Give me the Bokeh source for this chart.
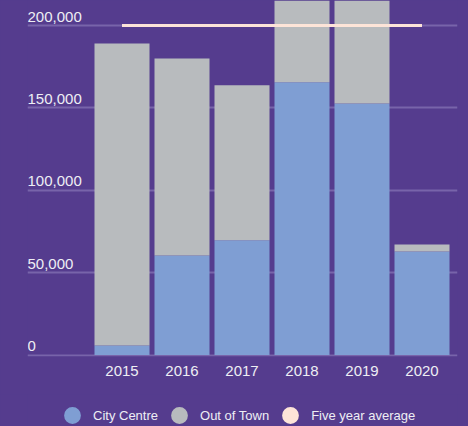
from bokeh.plotting import figure
from bokeh.layouts import column
from bokeh.models import (ColumnDataSource, Range1d, FixedTicker, Grid, Legend, LegendItem)
from bokeh.core.properties import value
from bokeh.embed import file_html
from bokeh.resources import INLINE

# ---- data ----
years = [2015, 2016, 2017, 2018, 2019, 2020]
city_centre = [5800, 60400, 69700, 165600, 152700, 62800]
out_of_town = [183200, 119600, 94100, 69500, 79400, 4200]
five_year_average = 200000
y_ticks = [0, 50000, 100000, 150000, 200000]
y_tick_labels = ["0", "50,000", "100,000", "150,000", "200,000"]
series_names = ["City Centre", "Out of Town", "Five year average"]

# ---- style ----
BG = "#553c8e"
BLUE = "#7f9ed3"
GREY = "#b8bbbe"
PEACH = "#fde4d8"
TEXT = "#eeeef4"
GRID = "#7864aa"
FONT = "Liberation Sans"

W = 468
MAIN_H = 394
LEG_H = 32
frame_left = 27
frame_w = 430
frame_h = 356
zero_px = 354.5
px_per_year = 60.0
px_per_unit = 329.5 / 200000.0

x_start = years[0] - (121.5 - frame_left) / px_per_year
x_end = x_start + frame_w / px_per_year
y_end = zero_px / px_per_unit
y_start = -(frame_h - zero_px) / px_per_unit

p = figure(width=W, height=MAIN_H, output_backend="svg", toolbar_location=None,
           x_range=Range1d(x_start, x_end), y_range=Range1d(y_start, y_end),
           y_axis_location=None, min_border_left=frame_left,
           min_border_right=W - frame_left - frame_w,
           min_border_top=0, min_border_bottom=MAIN_H - frame_h)
p.background_fill_color = BG
p.border_fill_color = BG
p.outline_line_color = None
p.styles = {"background-color": BG}
p.xgrid.visible = False
p.ygrid.visible = False

grid = Grid(dimension=1, ticker=FixedTicker(ticks=y_ticks),
            grid_line_color=GRID, grid_line_width=2)
p.add_layout(grid)

src = ColumnDataSource(dict(year=years, city=city_centre, out=out_of_town))
p.vbar_stack(["city", "out"], x="year", width=55 / px_per_year, source=src,
             color=[BLUE, GREY], line_color=None)

p.line(x=[years[0], years[-1]], y=[five_year_average, five_year_average],
       line_color=PEACH, line_width=3)

# y tick labels sitting above the grid lines
lab_src = ColumnDataSource(dict(x=[x_start] * len(y_ticks), y=y_ticks, t=y_tick_labels))
p.text(x="x", y="y", text="t", source=lab_src, text_font=value(FONT),
       text_font_size="15px", text_color=TEXT, text_align="left",
       text_baseline="alphabetic", y_offset=-9)

# x axis
ax = p.xaxis[0]
ax.ticker = FixedTicker(ticks=years)
ax.major_label_overrides = {y: str(y) for y in years}
ax.axis_line_color = None
ax.major_tick_line_color = None
ax.minor_tick_line_color = None
ax.major_label_text_font = FONT
ax.major_label_text_font_size = "15px"
ax.major_label_text_color = TEXT
ax.major_label_standoff = 3

# legend strip (circle markers; legend-only renderers hold no visible point)
lg = figure(width=W, height=LEG_H, output_backend="svg", toolbar_location=None,
            x_range=Range1d(0, 1), y_range=Range1d(0, 1),
            x_axis_location=None, y_axis_location=None,
            min_border_left=0, min_border_right=0, min_border_top=0, min_border_bottom=0)
lg.background_fill_color = BG
lg.border_fill_color = BG
lg.outline_line_color = None
lg.styles = {"background-color": BG}
lg.xgrid.visible = False
lg.ygrid.visible = False
colors = [BLUE, GREY, PEACH]
nan = float("nan")
rs = [lg.scatter(x=[nan], y=[nan], marker="circle", fill_color=c, line_color=None)
      for c in colors]
legend = Legend(items=[LegendItem(label=n, renderers=[r]) for n, r in zip(series_names, rs)],
                orientation="horizontal", location=(24, -10),
                glyph_width=42, glyph_height=42, label_standoff=-1, spacing=0,
                padding=0, margin=0, background_fill_alpha=0, border_line_color=None,
                label_text_font=FONT, label_text_font_size="13px", label_text_color=TEXT)
lg.add_layout(legend)

layout = column(p, lg, spacing=0)
layout.styles = {"background-color": BG}
open("out.html", "w").write(file_html(layout, INLINE))
